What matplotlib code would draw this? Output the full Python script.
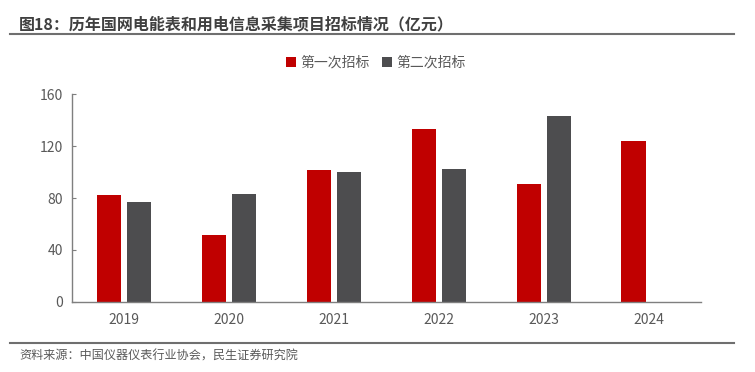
import matplotlib
matplotlib.use("Agg")
import matplotlib.pyplot as plt
from matplotlib.lines import Line2D
import numpy as np

plt.rcParams['font.family'] = ['Noto Sans CJK SC', 'DejaVu Sans']

years = ["2019", "2020", "2021", "2022", "2023", "2024"]
first_bid = [82.3, 51.5, 101.6, 133.2, 90.6, 124.2]
second_bid = [77.2, 82.9, 100.1, 102.1, 143.3, np.nan]
series_names = ["第一次招标", "第二次招标"]
yticks = [0, 40, 80, 120, 160]

title = "图18：历年国网电能表和用电信息采集项目招标情况（亿元）"
source = "资料来源：中国仪器仪表行业协会，民生证券研究院"

red = "#C00000"
gray = "#4D4D4F"
txt = "#595959"

W, H = 755, 372
fig = plt.figure(figsize=(W / 100, H / 100), dpi=100)
ax = fig.add_axes([71.7 / W, 1 - 301.7 / H, (701 - 71.7) / W, (301.7 - 94.3) / H])

x = np.arange(len(years))
bw = 0.232
off = 0.143
ax.bar(x - off, first_bid, bw, color=red, label=series_names[0], edgecolor='none')
ax.bar(x + off, second_bid, bw, color=gray, label=series_names[1], edgecolor='none')

ax.set_xlim(-0.5, len(years) - 0.5)
ax.set_ylim(0, 160)
ax.set_yticks(yticks)
ax.set_xticks(x)
ax.set_xticklabels(years)
for s in ['top', 'right']:
    ax.spines[s].set_visible(False)
for s in ['left', 'bottom']:
    ax.spines[s].set_color('#7f7f7f')
    ax.spines[s].set_linewidth(1.0)
ax.tick_params(axis='y', direction='in', length=3, color='#7f7f7f', labelsize=10, labelcolor=txt, pad=6)
ax.tick_params(axis='x', length=0, labelsize=10, labelcolor=txt, pad=8)

leg = fig.legend(loc='center', bbox_to_anchor=(376 / W, 1 - 63 / H), ncol=2, frameon=False,
                 fontsize=10, handlelength=0.7, handleheight=0.7, handletextpad=0.3,
                 columnspacing=0.9, labelcolor=txt)

fig.text(19 / W, 1 - 24 / H, title, fontsize=11.5, fontweight='bold', color='#404040', va='center', ha='left')
fig.add_artist(Line2D([10 / W, 734 / W], [1 - 34 / H, 1 - 34 / H], color='#6f6f6f', lw=1.5))
fig.add_artist(Line2D([10 / W, 734 / W], [1 - 343 / H, 1 - 343 / H], color='#6f6f6f', lw=1.5))
fig.text(19 / W, 1 - 356 / H, source, fontsize=8.7, color=txt, va='center', ha='left')

fig.savefig("out.png", dpi=100)
